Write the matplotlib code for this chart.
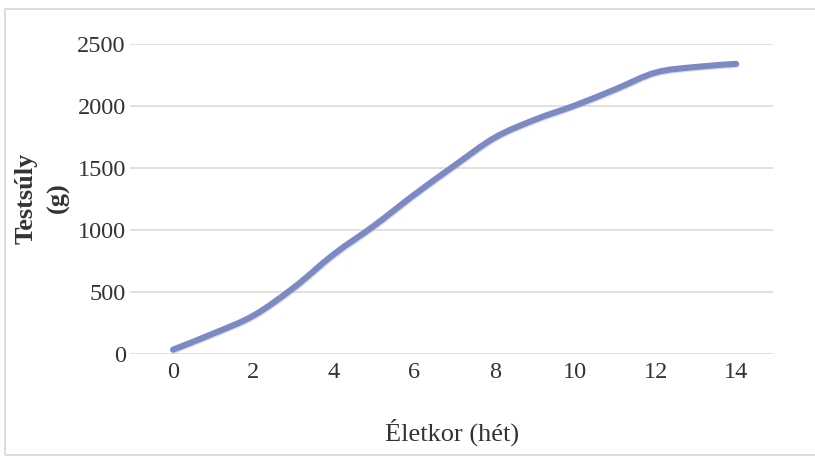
import matplotlib
matplotlib.use("Agg")
import matplotlib.pyplot as plt
from matplotlib.patches import Rectangle, PathPatch
from matplotlib.path import Path
import matplotlib.patheffects as pe

# Body weight by age
weeks = [0, 1, 2, 3, 4, 5, 6, 7, 8, 9, 10, 11, 12, 13, 14]
weight_g = [35, 165, 310, 535, 805, 1035, 1285, 1520, 1745, 1890, 2005, 2135, 2270, 2315, 2340]
x_ticks = [0, 2, 4, 6, 8, 10, 12, 14]
y_ticks = [0, 500, 1000, 1500, 2000, 2500]


def smooth_path(xs, ys, tension=1 / 6):
    """Cubic Bezier path through every point (Catmull-Rom style)."""
    verts = [(xs[0], ys[0])]
    codes = [Path.MOVETO]
    n = len(xs)
    for i in range(n - 1):
        x0, y0 = (xs[i - 1], ys[i - 1]) if i > 0 else (xs[i], ys[i])
        x1, y1 = xs[i], ys[i]
        x2, y2 = xs[i + 1], ys[i + 1]
        x3, y3 = (xs[i + 2], ys[i + 2]) if i + 2 < n else (x2, y2)
        c1 = (x1 + (x2 - x0) * tension, y1 + (y2 - y0) * tension)
        c2 = (x2 - (x3 - x1) * tension, y2 - (y3 - y1) * tension)
        verts += [c1, c2, (x2, y2)]
        codes += [Path.CURVE4] * 3
    return Path(verts, codes)


W, H = 815, 458
fig = plt.figure(figsize=(W / 100, H / 100), dpi=100)
fig.patch.set_facecolor("white")

plt.rcParams["font.family"] = ["Liberation Serif", "DejaVu Serif"]

# light frame around the chart
fig.patches.append(Rectangle((5 / W, 1 - 455 / H), 820 / W, 446 / H,
                             transform=fig.transFigure, fill=False,
                             edgecolor="#d6d6d6", linewidth=1.2))

left, right = 130 / W, 773 / W
bottom, top = 1 - 354 / H, 1 - 44 / H
ax = fig.add_axes([left, bottom, right - left, top - bottom])
ax.set_facecolor("white")

ax.set_xlim(-1.07, 14.92)
ax.set_ylim(0, 2500)
ax.set_xticks(x_ticks)
ax.set_yticks(y_ticks)
ax.tick_params(length=0, labelsize=17.5, colors="#333333")
ax.tick_params(axis="x", pad=6)
ax.tick_params(axis="y", pad=3)
for s in ax.spines.values():
    s.set_visible(False)
ax.grid(axis="y", color="#d9d9d9", linewidth=1.1)
ax.set_axisbelow(True)

curve = PathPatch(smooth_path(weeks, weight_g), facecolor="none",
                  edgecolor="#7d89c3", linewidth=4.4, capstyle="round",
                  joinstyle="round", clip_on=False,
                  path_effects=[pe.SimpleLineShadow(offset=(0.6, -0.8),
                                                    shadow_color="#9aa0b8", alpha=0.35),
                                pe.Normal()])
ax.add_patch(curve)

fig.text(26 / W, 1 - 198 / H, "Testsúly", rotation=90, ha="center", va="center",
         fontsize=19, fontweight="bold", color="#333333")
fig.text(58 / W, 1 - 198 / H, "(g)", rotation=90, ha="center", va="center",
         fontsize=19, fontweight="bold", color="#333333")
fig.text(452 / W, 1 - 432 / H, "Életkor (hét)", ha="center", va="center",
         fontsize=19, color="#333333")

fig.savefig("out.png", dpi=100, facecolor="white")
